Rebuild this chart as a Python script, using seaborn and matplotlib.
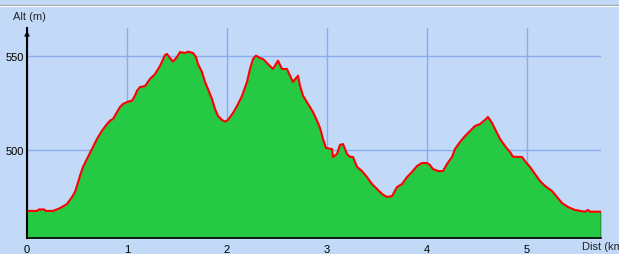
import matplotlib
matplotlib.use("Agg")
import matplotlib.pyplot as plt
from matplotlib.lines import Line2D
import seaborn as sns
import pandas as pd

# Distance (km) and altitude (m) of the profile
dist = [0.00, 0.10, 0.12, 0.17, 0.19, 0.26, 0.33, 0.40, 0.45, 0.48, 0.50, 0.53, 0.56, 0.61,
        0.65, 0.70, 0.75, 0.80, 0.83, 0.86, 0.90, 0.93, 0.96, 1.01, 1.05, 1.08, 1.10, 1.13,
        1.18, 1.23, 1.28, 1.33, 1.38, 1.40, 1.43, 1.46, 1.50, 1.53, 1.58, 1.61, 1.66, 1.69,
        1.71, 1.75, 1.78, 1.81, 1.85, 1.88, 1.91, 1.95, 1.98, 2.01, 2.06, 2.10, 2.15, 2.20,
        2.23, 2.26, 2.29, 2.33, 2.36, 2.41, 2.46, 2.51, 2.55, 2.60, 2.63, 2.66, 2.71, 2.73,
        2.76, 2.81, 2.86, 2.90, 2.93, 2.96, 2.99, 3.05, 3.06, 3.10, 3.13, 3.16, 3.20, 3.23,
        3.26, 3.30, 3.35, 3.40, 3.45, 3.50, 3.55, 3.60, 3.65, 3.70, 3.75, 3.80, 3.85, 3.90,
        3.95, 4.00, 4.03, 4.06, 4.11, 4.16, 4.20, 4.25, 4.28, 4.33, 4.38, 4.43, 4.48, 4.53,
        4.58, 4.61, 4.65, 4.68, 4.73, 4.78, 4.83, 4.86, 4.95, 4.98, 5.03, 5.08, 5.13, 5.18,
        5.25, 5.30, 5.35, 5.41, 5.48, 5.58, 5.61, 5.63, 5.74]
alt = [467.6, 467.6, 468.4, 468.4, 467.6, 467.6, 469.1, 471.3, 475.0, 477.7, 481.0, 486.3, 491.0, 496.3,
       500.5, 505.9, 510.3, 513.8, 515.6, 516.5, 520.1, 522.9, 524.5, 525.7, 526.2, 528.9, 531.5, 533.5,
       534.0, 537.8, 540.4, 544.7, 550.5, 551.1, 548.9, 547.0, 549.5, 552.1, 551.6, 552.3, 551.6, 549.5,
       545.7, 541.5, 536.2, 532.4, 527.1, 521.8, 518.1, 516.0, 515.1, 516.0, 519.7, 523.4, 528.7, 536.2,
       543.1, 548.4, 550.2, 548.9, 548.4, 545.7, 543.1, 547.5, 543.1, 543.1, 539.5, 536.2, 539.5, 534.2,
       528.9, 524.5, 520.2, 515.6, 511.7, 505.9, 501.1, 500.5, 496.3, 497.9, 502.7, 503.2, 497.9, 496.4,
       496.3, 491.0, 488.8, 485.6, 481.9, 479.3, 476.6, 475.0, 475.5, 480.3, 481.9, 485.6, 488.3, 491.5,
       493.1, 493.1, 492.0, 489.9, 488.8, 488.8, 492.6, 496.3, 500.5, 504.3, 507.4, 510.1, 512.8, 513.8,
       516.0, 517.6, 514.4, 511.2, 505.9, 502.1, 498.9, 496.4, 496.3, 494.1, 491.0, 487.2, 483.5, 480.9,
       478.2, 475.0, 471.8, 469.7, 468.1, 467.2, 468.1, 467.2, 467.2]

x_ticks = [0, 1, 2, 3, 4, 5]
y_ticks = [500, 550]
x_label = "Dist (km)"
y_label = "Alt (m)"

BG = "#c2d9f8"
GRID = "#8eaaee"
FILL = "#26c944"
LINE = "#ff0000"

sns.set_style("white")
plt.rcParams["font.family"] = ["Liberation Sans", "DejaVu Sans"]

W, H = 619, 255
fig = plt.figure(figsize=(W / 100, H / 100), dpi=100, facecolor=BG)
ax = fig.add_axes([27 / W, (H - 239) / H, (601 - 27) / W, (239 - 29) / H])
ax.set_facecolor(BG)

df = pd.DataFrame({"dist": dist, "alt": alt})
ymin, ymax = 453.2, 564.9
ax.fill_between(df["dist"], df["alt"], ymin, color=FILL, linewidth=0, zorder=2)
sns.lineplot(data=df, x="dist", y="alt", ax=ax, color=LINE, linewidth=1.5, zorder=3,
             sort=False, estimator=None)
ax.vlines(dist[-1], ymin, alt[-1], color="black", linewidth=1, zorder=4)

ax.set_xlim(0, dist[-1])
ax.set_ylim(ymin, ymax)
ax.set_xticks(x_ticks)
ax.set_yticks(y_ticks)
ax.set_xticklabels([str(t) for t in x_ticks])
ax.set_yticklabels([str(t) for t in y_ticks])
ax.tick_params(axis="both", length=0, labelsize=8, colors="black")
ax.tick_params(axis="x", pad=4)
ax.tick_params(axis="y", pad=2)
ax.grid(True, color=GRID, linewidth=1, zorder=1)
ax.set_axisbelow(True)
ax.set_xlabel("")
ax.set_ylabel("")

for s in ["top", "right"]:
    ax.spines[s].set_visible(False)
ax.spines["left"].set_color("black")
ax.spines["left"].set_linewidth(1.5)
ax.spines["bottom"].set_color("black")
ax.spines["bottom"].set_linewidth(1.2)
ax.spines["left"].set_zorder(5)
ax.spines["bottom"].set_zorder(5)

# arrow at top of y axis
ax.annotate("", xy=(0, 1.0), xytext=(0, 0.95), xycoords="axes fraction",
            arrowprops=dict(arrowstyle="->", color="black", lw=1, mutation_scale=7))

fig.text(13 / W, 1 - 12 / H, y_label, ha="left", va="top", fontsize=8)
fig.text(582 / W, 1 - 242 / H, x_label, ha="left", va="top", fontsize=8)

# window border at top
fig.add_artist(Line2D([0, 1], [1 - 5.5 / H, 1 - 5.5 / H], color="#a0a0a8", linewidth=0.8))
fig.add_artist(Line2D([0, 1], [1 - 6.5 / H, 1 - 6.5 / H], color="#ffffff", linewidth=0.8))

fig.savefig("out.png", dpi=100, facecolor=BG)
